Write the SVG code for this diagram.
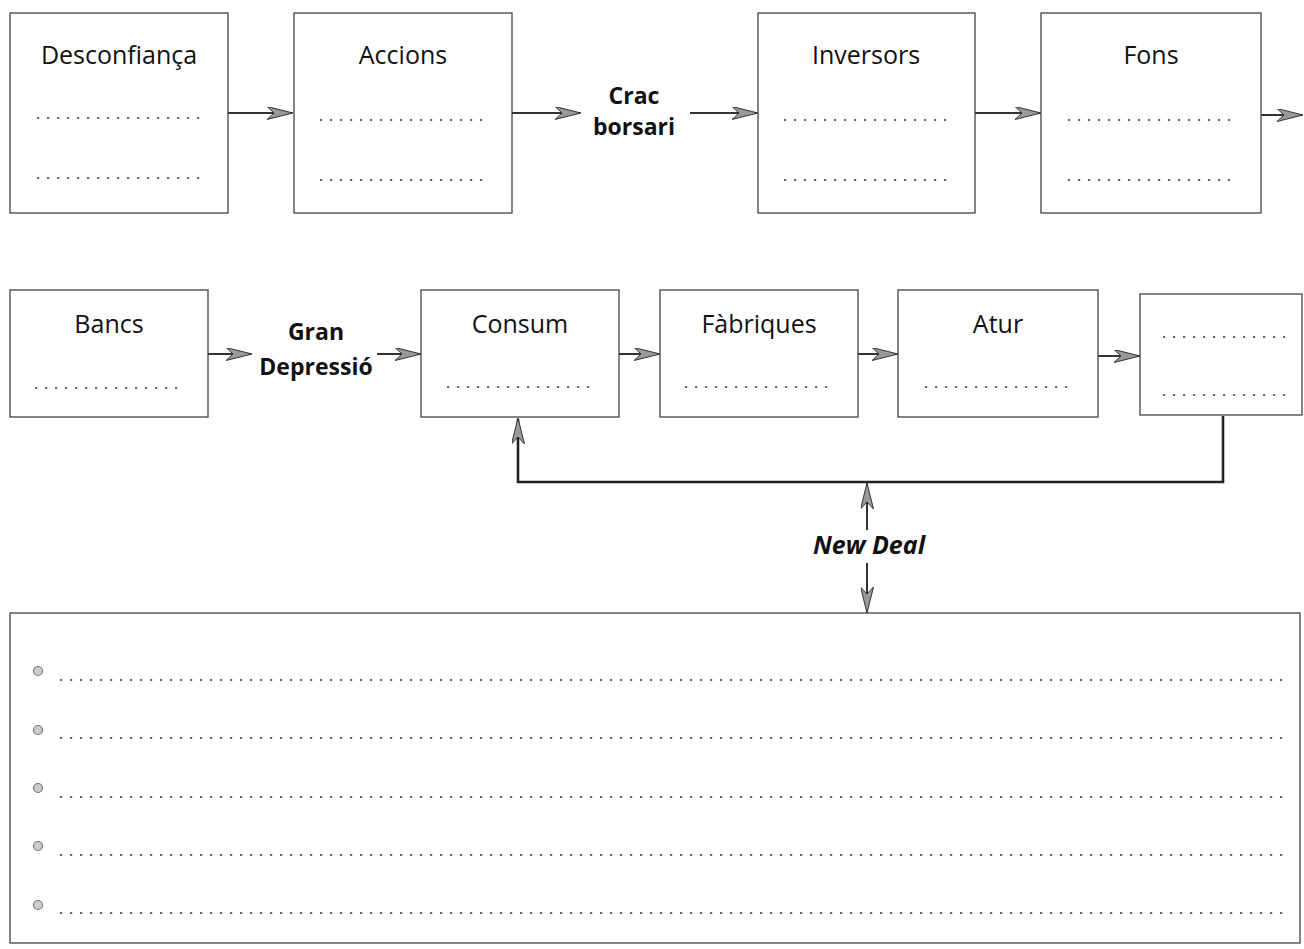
<svg xmlns="http://www.w3.org/2000/svg" width="1304" height="949" viewBox="0 0 1304 949">
<defs>
<style>
.box{fill:#fff;stroke:#444;stroke-width:1.3}
.t{font-family:"Open Sans","Noto Sans","Liberation Sans",sans-serif;font-size:25px;fill:#111;text-anchor:middle}
.b{font-family:"Open Sans","Noto Sans","Liberation Sans",sans-serif;font-size:23px;font-weight:bold;fill:#111;text-anchor:middle}
.bi{font-family:"Open Sans","Noto Sans","Liberation Sans",sans-serif;font-size:25px;font-weight:bold;font-style:italic;fill:#111;text-anchor:middle}
.ln{stroke:#333;stroke-width:2;fill:none}
.thick{stroke:#222;stroke-width:2.6;fill:none}
.dots{stroke:#666;stroke-width:2.2;stroke-dasharray:2.2 7.8;fill:none}
.bul{fill:#ccc;stroke:#777;stroke-width:1.2}
</style>
<marker id="ah" viewBox="0 0 26 13" refX="25" refY="6.5" markerWidth="26" markerHeight="13" markerUnits="userSpaceOnUse" orient="auto-start-reverse">
<path d="M0,0 L26,6.5 L0,13 L7,6.5 Z" fill="#999" stroke="#333" stroke-width="1"/>
</marker>
</defs>

<g id="connectors">
<line class="ln" x1="228" y1="113" x2="292" y2="113" marker-end="url(#ah)"/>
<line class="ln" x1="512" y1="113" x2="580" y2="113" marker-end="url(#ah)"/>
<line class="ln" x1="690" y1="113" x2="757" y2="113" marker-end="url(#ah)"/>
<line class="ln" x1="975" y1="113" x2="1040" y2="113" marker-end="url(#ah)"/>
<line class="ln" x1="1261" y1="115" x2="1302" y2="115" marker-end="url(#ah)"/>
<line class="ln" x1="208" y1="354" x2="251" y2="354" marker-end="url(#ah)"/>
<line class="ln" x1="377" y1="354" x2="420" y2="354" marker-end="url(#ah)"/>
<line class="ln" x1="619" y1="354" x2="659" y2="354" marker-end="url(#ah)"/>
<line class="ln" x1="858" y1="354" x2="897" y2="354" marker-end="url(#ah)"/>
<line class="ln" x1="1098" y1="356" x2="1139" y2="356" marker-end="url(#ah)"/>
<polyline class="thick" points="1223,416 1223,482 518,482 518,419" marker-end="url(#ah)"/>
<line class="ln" x1="867" y1="530" x2="867" y2="484" marker-end="url(#ah)"/>
<line class="ln" x1="867" y1="563" x2="867" y2="612" marker-end="url(#ah)"/>
</g>

<g id="n-desconfianca">
<rect class="box" x="10" y="13" width="218" height="200"/>
<text class="t" x="119" y="64">Desconfiança</text>
<line class="dots" x1="37" y1="118" x2="203" y2="118"/>
<line class="dots" x1="37" y1="178" x2="203" y2="178"/>
</g>
<g id="n-accions">
<rect class="box" x="294" y="13" width="218" height="200"/>
<text class="t" x="403" y="64">Accions</text>
<line class="dots" x1="320" y1="120" x2="486" y2="120"/>
<line class="dots" x1="320" y1="180" x2="486" y2="180"/>
</g>
<g id="n-crac">
<text class="b" x="634" y="104">Crac</text>
<text class="b" x="634" y="135">borsari</text>
</g>
<g id="n-inversors">
<rect class="box" x="758" y="13" width="217" height="200"/>
<text class="t" x="866" y="64">Inversors</text>
<line class="dots" x1="784" y1="120" x2="950" y2="120"/>
<line class="dots" x1="784" y1="180" x2="950" y2="180"/>
</g>
<g id="n-fons">
<rect class="box" x="1041" y="13" width="220" height="200"/>
<text class="t" x="1151" y="64">Fons</text>
<line class="dots" x1="1068" y1="120" x2="1234" y2="120"/>
<line class="dots" x1="1068" y1="180" x2="1234" y2="180"/>
</g>

<g id="n-bancs">
<rect class="box" x="10" y="290" width="198" height="127"/>
<text class="t" x="109" y="333">Bancs</text>
<line class="dots" x1="35" y1="388" x2="185" y2="388"/>
</g>
<g id="n-gran">
<text class="b" x="316" y="340">Gran</text>
<text class="b" x="316" y="375">Depressió</text>
</g>
<g id="n-consum">
<rect class="box" x="421" y="290" width="198" height="127"/>
<text class="t" x="520" y="333">Consum</text>
<line class="dots" x1="447" y1="387" x2="597" y2="387"/>
</g>
<g id="n-fabriques">
<rect class="box" x="660" y="290" width="198" height="127"/>
<text class="t" x="759" y="333">Fàbriques</text>
<line class="dots" x1="685" y1="387" x2="835" y2="387"/>
</g>
<g id="n-atur">
<rect class="box" x="898" y="290" width="200" height="127"/>
<text class="t" x="998" y="333">Atur</text>
<line class="dots" x1="925" y1="387" x2="1075" y2="387"/>
</g>
<g id="n-last">
<rect class="box" x="1140" y="294" width="162" height="121"/>
<line class="dots" x1="1163" y1="337" x2="1289" y2="337"/>
<line class="dots" x1="1163" y1="395" x2="1289" y2="395"/>
</g>

<g id="n-newdeal">
<text class="bi" x="869" y="554">New Deal</text>
</g>

<g id="n-list">
<rect class="box" x="10" y="613" width="1290" height="330"/>
<circle class="bul" cx="38" cy="671" r="4.5"/>
<circle class="bul" cx="38" cy="730" r="4.5"/>
<circle class="bul" cx="38" cy="788" r="4.5"/>
<circle class="bul" cx="38" cy="846" r="4.5"/>
<circle class="bul" cx="38" cy="905" r="4.5"/>
<line class="dots" x1="60" y1="680" x2="1290" y2="680"/>
<line class="dots" x1="60" y1="738" x2="1290" y2="738"/>
<line class="dots" x1="60" y1="797" x2="1290" y2="797"/>
<line class="dots" x1="60" y1="855" x2="1290" y2="855"/>
<line class="dots" x1="60" y1="913" x2="1290" y2="913"/>
</g>
</svg>
